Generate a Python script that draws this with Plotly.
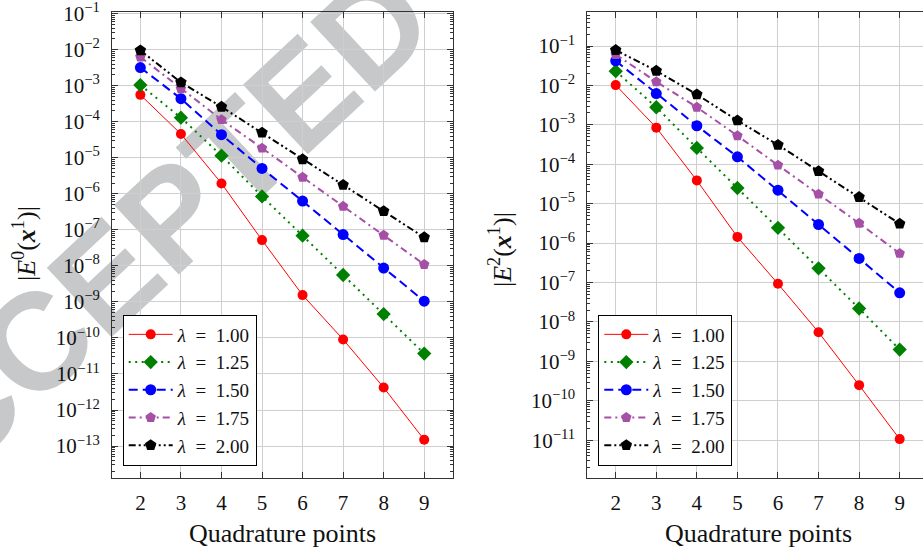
import plotly.graph_objects as go

W, H = 923, 550

quad_points = [2, 3, 4, 5, 6, 7, 8, 9]
lambda_labels = ["1.00", "1.25", "1.50", "1.75", "2.00"]
left_exponents = [-13, -12, -11, -10, -9, -8, -7, -6, -5, -4, -3, -2, -1]
right_exponents = [-11, -10, -9, -8, -7, -6, -5, -4, -3, -2, -1]

# |E^0(x^1)|
e0_l100 = [5.6e-4, 4.6e-5, 1.95e-6, 5.2e-8, 1.55e-9, 9.1e-11, 4.2e-12, 1.5e-13]
e0_l125 = [1.05e-3, 1.3e-4, 1.15e-5, 8.5e-7, 6.9e-8, 5.6e-9, 4.6e-10, 3.7e-11]
e0_l150 = [3.2e-3, 4.4e-4, 4.4e-5, 5.1e-6, 6.3e-7, 7.4e-8, 8.7e-9, 1.05e-9]
e0_l175 = [6.3e-3, 8.3e-4, 1.15e-4, 1.86e-5, 2.9e-6, 4.5e-7, 7.1e-8, 1.1e-8]
e0_l200 = [9.6e-3, 1.24e-3, 2.6e-4, 5.0e-5, 9.1e-6, 1.77e-6, 3.3e-7, 6.2e-8]

# |E^2(x^1)|
e2_l100 = [1.02e-2, 8.5e-4, 3.9e-5, 1.44e-6, 9.3e-8, 5.5e-9, 2.5e-10, 1.07e-11]
e2_l125 = [2.3e-2, 2.8e-3, 2.6e-4, 2.5e-5, 2.45e-6, 2.3e-7, 2.2e-8, 2.0e-9]
e2_l150 = [4.2e-2, 6.2e-3, 9.5e-4, 1.55e-4, 2.2e-5, 2.97e-6, 4.1e-7, 5.5e-8]
e2_l175 = [6.1e-2, 1.24e-2, 2.8e-3, 5.3e-4, 9.5e-5, 1.75e-5, 3.2e-6, 5.5e-7]
e2_l200 = [7.9e-2, 2.35e-2, 5.9e-3, 1.29e-3, 3.1e-4, 6.7e-5, 1.47e-5, 3.1e-6]

styles = [
    dict(color="#ff0000", dash="solid", width=1.0, symbol="circle", size=10),
    dict(color="#008000", dash="2px,4.5px", width=2.0, symbol="diamond", size=11),
    dict(color="#0000ff", dash="9px,5px", width=2.0, symbol="circle", size=11),
    dict(color="#a64fa6", dash="7px,4px,2px,4px", width=2.0, symbol="pentagon", size=11),
    dict(color="#000000", dash="7px,3px,2px,3px,2px,3px", width=2.0, symbol="pentagon", size=12),
]

SERIF = "Liberation Serif"
fig = go.Figure()

def add_set(series, xa, ya, legend):
    for lab, ys, st in zip(lambda_labels, series, styles):
        fig.add_trace(go.Scatter(
            x=quad_points, y=ys, xaxis=xa, yaxis=ya, mode="lines+markers",
            name=f"<i>λ</i>\u2002=\u2002{lab}", legend=legend,
            line=dict(color=st["color"], dash=st["dash"], width=st["width"]),
            marker=dict(symbol=st["symbol"], size=st["size"], color=st["color"], line=dict(width=0)),
        ))

add_set([e0_l100, e0_l125, e0_l150, e0_l175, e0_l200], "x", "y", "legend")
add_set([e2_l100, e2_l125, e2_l150, e2_l175, e2_l200], "x2", "y2", "legend2")

def px(x):
    return x / W

def py(y):
    return 1 - y / H

FRAME = "#333333"
GRID = "#cfcfcf"
tickfont = dict(family=SERIF, size=21, color="#111111")

def xaxis_cfg(domain, rng, anchor):
    return dict(
        domain=domain, range=rng, anchor=anchor, tickvals=quad_points, automargin=False,
        ticks="inside", ticklen=6, tickcolor=FRAME, showline=True, linecolor=FRAME,
        linewidth=1, mirror="allticks", showgrid=True, gridcolor=GRID, gridwidth=1,
        zeroline=False, tickfont=tickfont, ticklabelstandoff=6,
    )

def yaxis_cfg(domain, rng, anchor, mirror, exps):
    return dict(
        type="log", domain=domain, range=rng, anchor=anchor, automargin=False,
        tickvals=[10.0 ** e for e in exps],
        ticktext=[f"10<sup>\u2212{-e}</sup>" for e in exps],
        ticklabeloverflow="allow",
        ticks="inside", ticklen=6, tickcolor=FRAME, showline=True, linecolor=FRAME,
        linewidth=1, mirror=mirror, showgrid=True, gridcolor=GRID, gridwidth=1,
        zeroline=False, tickfont=tickfont, ticklabelstandoff=7,
        minor=dict(ticks="inside", ticklen=3, tickcolor=FRAME, dtick="D1", showgrid=False),
    )

ydom = [py(478), py(12.3)]
legfont = dict(family=SERIF, size=19, color="#111111")
fig.update_layout(
    width=W, height=H, autosize=False,
    margin=dict(l=0, r=0, t=0, b=0, autoexpand=False),
    paper_bgcolor="white", plot_bgcolor="rgba(0,0,0,0)",
    showlegend=True,
    xaxis=xaxis_cfg([px(112), px(453)], [1.3, 9.71], "y"),
    yaxis=yaxis_cfg(ydom, [-13.887, -0.96], "x", "allticks", left_exponents),
    xaxis2=xaxis_cfg([px(587.3), 1.0], [1.3, 1.3 + (923 - 587.3) / 40.57], "y2"),
    yaxis2=yaxis_cfg(ydom, [-11.957, -0.145], "x2", False, right_exponents),
    legend=dict(x=px(122.7), y=py(314.5), xanchor="left", yanchor="top",
                bgcolor="white", bordercolor="#000000", borderwidth=1,
                font=legfont, tracegroupgap=0, itemwidth=44),
    legend2=dict(x=px(598.3), y=py(314.5), xanchor="left", yanchor="top",
                 bgcolor="white", bordercolor="#000000", borderwidth=1,
                 font=legfont, tracegroupgap=0, itemwidth=44),
)

# watermark, drawn beneath the traces
cx, cy = 122, 244
fig.add_shape(
    type="rect", xref="paper", yref="paper",
    x0=px(cx - 2), x1=px(cx + 2), y0=py(cy + 2), y1=py(cy - 2),
    line=dict(width=0), fillcolor="rgba(0,0,0,0)", layer="below",
    label=dict(text="ACCEPTED", textangle=-43, textposition="middle center",
               font=dict(family="Liberation Sans", size=138, color="#c7c8c9", weight="bold")),
)

titlefont = dict(family=SERIF, size=26, color="#111111")
fig.add_annotation(text="Quadrature points", xref="paper", yref="paper",
                   x=px(282.5), y=py(533), showarrow=False, font=titlefont,
                   xanchor="center", yanchor="middle")
fig.add_annotation(text="Quadrature points", xref="paper", yref="paper",
                   x=px(758), y=py(533), showarrow=False, font=titlefont,
                   xanchor="center", yanchor="middle")
fig.add_annotation(text="|<i>E</i><sup>0</sup>(<b><i>x</i></b><sup>1</sup>)|", xref="paper", yref="paper",
                   x=px(25), y=py(244), showarrow=False, font=titlefont, textangle=-90,
                   xanchor="center", yanchor="middle")
fig.add_annotation(text="|<i>E</i><sup>2</sup>(<b><i>x</i></b><sup>1</sup>)|", xref="paper", yref="paper",
                   x=px(500), y=py(250), showarrow=False, font=titlefont, textangle=-90,
                   xanchor="center", yanchor="middle")

fig.write_html("out.html")
